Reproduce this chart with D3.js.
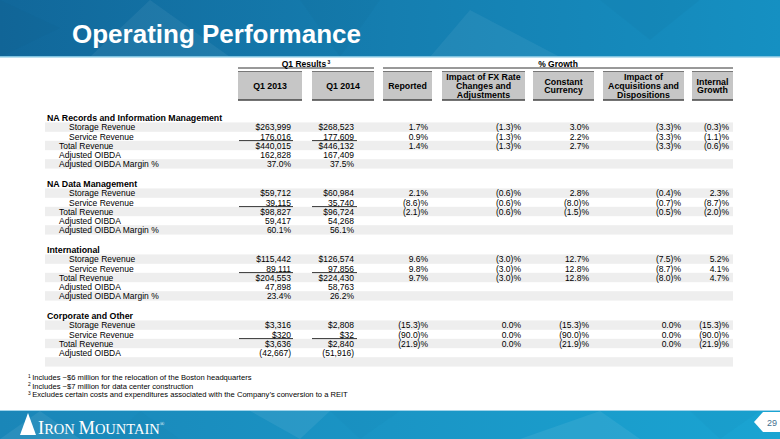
<!DOCTYPE html>
<html><head><meta charset="utf-8">
<script src="https://cdn.jsdelivr.net/npm/d3@7"></script>
<style>html,body{margin:0;padding:0;background:#fff;}svg{display:block;font-family:"Liberation Sans",Arial,sans-serif;}</style>
</head><body><div id="chart"></div>
<script>
// ---- data ----
const sections = ["NA Records and Information Management", "NA Data Management", "International", "Corporate and Other"];
const rowLabels = ["Storage Revenue", "Service Revenue", "Total Revenue", "Adjusted OIBDA", "Adjusted OIBDA Margin %"];
const rowCounts = [5, 5, 5, 4];
const columnHeaders = ["Q1 2013", "Q1 2014", "Reported", "Impact of FX Rate|Changes and|Adjustments", "Constant|Currency", "Impact of|Acquisitions and|Dispositions", "Internal|Growth"];
const groupHeaders = ["Q1 Results", "% Growth"];
// money values (thousands); margin rows are percentages
const q1_2013 = [263999, 176016, 440015, 162828, 37.0, 59712, 39115, 98827, 59417, 60.1, 115442, 89111, 204553, 47898, 23.4, 3316, 320, 3636, -42667];
const q1_2014 = [268523, 177609, 446132, 167409, 37.5, 60984, 35740, 96724, 54268, 56.1, 126574, 97856, 224430, 58763, 26.2, 2808, 32, 2840, -51916];
const dollarSign = [1, 0, 1, 0, 0, 1, 0, 1, 0, 0, 1, 0, 1, 0, 0, 1, 1, 1, 0];
const reported = [1.7, 0.9, 1.4, null, null, 2.1, -8.6, -2.1, null, null, 9.6, 9.8, 9.7, null, null, -15.3, -90.0, -21.9, null];
const fxImpact = [-1.3, -1.3, -1.3, null, null, -0.6, -0.6, -0.6, null, null, -3.0, -3.0, -3.0, null, null, 0.0, 0.0, 0.0, null];
const constantCurrency = [3.0, 2.2, 2.7, null, null, 2.8, -8.0, -1.5, null, null, 12.7, 12.8, 12.8, null, null, -15.3, -90.0, -21.9, null];
const acquisitions = [-3.3, -3.3, -3.3, null, null, -0.4, -0.7, -0.5, null, null, -7.5, -8.7, -8.0, null, null, 0.0, 0.0, 0.0, null];
const internalGrowth = [-0.3, -1.1, -0.6, null, null, 2.3, -8.7, -2.0, null, null, 5.2, 4.1, 4.7, null, null, -15.3, -90.0, -21.9, null];
const footnotes = ["Includes ~$6 million for the relocation of the Boston headquarters", "Includes ~$7 million for data center construction", "Excludes certain costs and expenditures associated with the Company’s conversion to a REIT"];
const title = "Operating Performance";
const pageNumber = "29";

// ---- layout ----
const W = 780, H = 439;
const svg = d3.select("#chart").append("svg").attr("width", W).attr("height", H);
const defs = svg.append("defs");
const g1 = defs.append("linearGradient").attr("id", "topg").attr("x1", 0).attr("x2", 1).attr("y1", 0).attr("y2", 0);
g1.append("stop").attr("offset", 0).attr("stop-color", "#11679a");
g1.append("stop").attr("offset", 0.5).attr("stop-color", "#157eb0");
g1.append("stop").attr("offset", 1).attr("stop-color", "#1590c2");
const g2 = defs.append("linearGradient").attr("id", "botg").attr("x1", 0).attr("x2", 1).attr("y1", 0).attr("y2", 0);
g2.append("stop").attr("offset", 0).attr("stop-color", "#1a86b8");
g2.append("stop").attr("offset", 1).attr("stop-color", "#1aa4d2");

// top band
svg.append("rect").attr("x", 0).attr("y", 0).attr("width", W).attr("height", 57).attr("fill", "url(#topg)");
const triTop = [[[0, 0], [60, 28], [0, 57]], [[150, 0], [230, 57], [90, 57]], [[300, 0], [380, 0], [340, 57]], [[470, 10], [560, 57], [430, 57]], [[600, 0], [700, 0], [650, 40]]];
svg.append("g").selectAll("path").data(triTop).join("path")
  .attr("d", d => "M" + d.join("L") + "Z").attr("fill", (d, i) => i % 2 ? "#ffffff" : "#0a4f7e").attr("opacity", 0.06);
svg.append("rect").attr("x", 0).attr("y", 56).attr("width", W).attr("height", 1.5).attr("fill", "#7fc3e0");
svg.append("text").attr("x", 72).attr("y", 43).attr("fill", "#fff").attr("font-weight", "bold").attr("font-size", 26).text(title);

// bottom band
svg.append("rect").attr("x", 0).attr("y", 410).attr("width", W).attr("height", 29).attr("fill", "url(#botg)");
svg.append("rect").attr("x", 0).attr("y", 410).attr("width", W).attr("height", 1).attr("fill", "#9fd3ea");
const triBot = [[[0, 439], [40, 411], [80, 439]], [[140, 411], [180, 439], [110, 439]], [[250, 411], [330, 411], [300, 439]], [[330, 411], [400, 411], [360, 439]], [[520, 439], [600, 411], [640, 439]], [[690, 411], [760, 411], [720, 439]]];
svg.append("g").selectAll("path").data(triBot).join("path")
  .attr("d", d => "M" + d.join("L") + "Z").attr("fill", (d, i) => i % 2 ? "#0d6b9c" : "#ffffff").attr("opacity", 0.07);
// logo
svg.append("path").attr("d", "M20,435L28,413L36,435Z").attr("fill", "#fff");
const logo = svg.append("text").attr("x", 38).attr("y", 434).attr("fill", "#fff").attr("font-family", "'Liberation Serif','Times New Roman',serif");
logo.append("tspan").attr("font-size", 18.5).text("I");
logo.append("tspan").attr("font-size", 14.5).text("RON ");
logo.append("tspan").attr("font-size", 18.5).text("M");
logo.append("tspan").attr("font-size", 14.5).text("OUNTAIN");
logo.append("tspan").attr("font-size", 6).attr("dy", -8).text("®");
// page number tag
svg.append("path").attr("d", "M780,412L763,412L754,422L763,432L780,432Z").attr("fill", "#fff");
svg.append("text").attr("x", 772).attr("y", 425.5).attr("text-anchor", "middle").attr("font-size", 9).attr("fill", "#3f6f8f").text(pageNumber);

// ---- table ----
const fs = 8.5;
const colKeys = d3.range(columnHeaders.length);
const colRight = d3.scaleOrdinal().domain(colKeys).range([291, 354, 428, 521, 589, 681, 729]);
const boxX0 = d3.scaleOrdinal().domain(colKeys).range([238, 312, 383, 442, 533, 603, 692]);
const boxX1 = d3.scaleOrdinal().domain(colKeys).range([302, 374, 432, 525, 594, 684, 733]);
const secY = d3.scaleLinear().domain([0, 1]).range([118, 184]);
const rowStep = d3.scaleLinear().domain([0, 1]).range([0, 9.2]);
const rowY = (s, r) => secY(s) + rowStep(r);

// header boxes
const hdr = svg.append("g");
hdr.selectAll("rect.box").data(colKeys).join("rect").attr("class", "box")
  .attr("x", d => boxX0(d)).attr("y", 71).attr("width", d => boxX1(d) - boxX0(d)).attr("height", 29)
  .attr("fill", "#c6c6c6");
hdr.selectAll("line.top").data(colKeys).join("line").attr("class", "top")
  .attr("x1", d => boxX0(d)).attr("x2", d => boxX1(d)).attr("y1", 71.5).attr("y2", 71.5).attr("stroke", "#777").attr("stroke-width", 1);
hdr.selectAll("line.bot").data(colKeys).join("line").attr("class", "bot")
  .attr("x1", d => boxX0(d)).attr("x2", d => boxX1(d)).attr("y1", 100).attr("y2", 100).attr("stroke", "#444").attr("stroke-width", 1.5);
hdr.selectAll("text.h").data(colKeys).join("text").attr("class", "h")
  .attr("text-anchor", "middle").attr("font-weight", "bold").attr("font-size", 8.8).attr("fill", "#000")
  .each(function (d) {
    const lines = columnHeaders[d].split("|");
    const cx = (boxX0(d) + boxX1(d)) / 2;
    const y0 = 89 - (lines.length - 1) * 4.35;
    d3.select(this).selectAll("tspan").data(lines).join("tspan")
      .attr("x", cx).attr("y", (l, i) => y0 + i * 8.7).text(l => l);
  });
// group headers
const groups = [[238, 374], [383, 733]];
groups.forEach((gx, i) => {
  svg.append("line").attr("x1", gx[0]).attr("x2", gx[1]).attr("y1", 68).attr("y2", 68).attr("stroke", "#333").attr("stroke-width", 1);
  const t = svg.append("text").attr("x", (gx[0] + gx[1]) / 2).attr("y", 66.5).attr("text-anchor", "middle")
    .attr("font-weight", "bold").attr("font-size", fs).text(groupHeaders[i]);
  if (i === 0) t.append("tspan").attr("font-size", 5).attr("dy", -3).text(" 3");
});

// stripes
const stripes = [];
sections.forEach((s, si) => [1, 3, 5].forEach(r => stripes.push(rowY(si, r))));
svg.append("g").selectAll("rect").data(stripes).join("rect")
  .attr("x", 45).attr("y", d => d - 4.8).attr("width", 688).attr("height", 9.4).attr("fill", "#eeeeee");

// rows
const moneyFmt = d3.format(",");
const pct1 = d3.format(".1f");
const fmtMoney = (v, i, r) => {
  if (v == null) return "";
  if (r === 4) return pct1(v) + "%";
  const s = moneyFmt(Math.abs(v));
  return v < 0 ? "(" + s + ")" : (dollarSign[i] ? "$" + s : s);
};
const fmtPct = v => v == null ? "" : (v < 0 ? "(" + pct1(-v) + ")%" : pct1(v) + "%");
const rows = [];
let idx = 0;
sections.forEach((s, si) => {
  for (let r = 0; r < rowCounts[si]; r++) {
    rows.push({ si, r, i: idx, label: rowLabels[r], vals: [q1_2013[idx], q1_2014[idx], reported[idx], fxImpact[idx], constantCurrency[idx], acquisitions[idx], internalGrowth[idx]] });
    idx++;
  }
});
const body = svg.append("g").attr("font-size", fs).attr("fill", "#000");
body.selectAll("text.sec").data(sections).join("text").attr("class", "sec")
  .attr("x", 47).attr("y", (d, i) => rowY(i, 0) + 3.1).attr("font-weight", "bold").attr("font-size", 8.8).text(d => d);
body.selectAll("text.lab").data(rows).join("text").attr("class", "lab")
  .attr("x", d => d.r < 2 ? 69 : 59).attr("y", d => rowY(d.si, d.r + 1) + 3.1).text(d => d.label);
rows.forEach(row => {
  row.vals.forEach((v, c) => {
    const txt = c < 2 ? fmtMoney(v, row.i, row.r) : fmtPct(v);
    if (!txt) return;
    body.append("text").attr("x", colRight(c)).attr("y", rowY(row.si, row.r + 1) + 3.1).attr("text-anchor", "end").text(txt);
  });
  if (row.r === 1) {
    const uy = rowY(row.si, 2) + 4.2;
    [[239, 293], [312, 357]].forEach(u => body.append("line").attr("x1", u[0]).attr("x2", u[1])
      .attr("y1", uy).attr("y2", uy).attr("stroke", "#000").attr("stroke-width", 0.8));
  }
});

// footnotes
const fn = svg.append("g").attr("font-size", 7.6).attr("fill", "#000");
footnotes.forEach((f, i) => {
  const t = fn.append("text").attr("x", 28).attr("y", 380 + i * 8.6);
  t.append("tspan").attr("font-size", 4.8).attr("dy", -2.5).text(i + 1);
  t.append("tspan").attr("dy", 2.5).attr("dx", 1.5).text(f);
});
</script></body></html>
